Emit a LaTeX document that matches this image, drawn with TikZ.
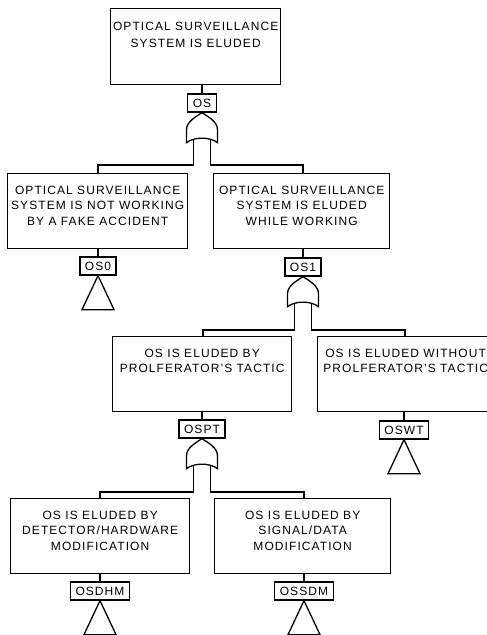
\documentclass[tikz,border=0pt]{standalone}
\usepackage{fontspec}
\setmainfont{Liberation Sans}[LetterSpace=9]
% event text: width, height, first-line strut, lines
\newcommand\evtext[4]{\parbox[c][#2pt][t]{#1pt}{\centering\rule{0pt}{#3pt}#4\par}}
\begin{document}
\begin{tikzpicture}[x=1pt,y=-1pt,line width=1.3pt,
  evbox/.style={draw, inner sep=0pt, anchor=north west,
    font=\fontsize{12}{15.8}\selectfont},
  tag/.style={draw, inner xsep=5pt, inner ysep=0pt, minimum height=18pt,
    font=\fontsize{12}{13}\selectfont},
  pics/orgate/.style={code={
    \draw (0,0) .. controls (-6,4) and (-15.5,9) .. (-15.5,17) -- (-15.5,30)
      .. controls (-8,24) and (8,24) .. (15.5,30) -- (15.5,17)
      .. controls (15.5,9) and (6,4) .. (0,0) -- cycle;
    \coordinate (-l) at (-8.5,27);
    \coordinate (-r) at (8.5,27);
  }},
  pics/transfer/.style={code={\draw (0,0) -- (-16,34) -- (16,34) -- cycle;}}
]
\useasboundingbox (0,0) rectangle (487,635);

% top event
\node[evbox, font=\fontsize{12}{17}\selectfont] (top) at (110,8)
  {\evtext{170}{76}{21.5}{OPTICAL SURVEILLANCE\\SYSTEM IS ELUDED}};
\node[tag] (os) at (202,103) {OS};
\draw (top.south -| os) -- (os.north);
\pic (g1) at (os.south) {orgate};

% first level
\coordinate (b1) at (0,165);
\node[evbox] (l1) at (7,173)
  {\evtext{180}{75}{20.5}{OPTICAL SURVEILLANCE\\SYSTEM IS NOT WORKING\\BY A FAKE ACCIDENT}};
\node[evbox] (r1) at (213,173)
  {\evtext{176}{75}{20.5}{OPTICAL SURVEILLANCE\\SYSTEM IS ELUDED\\WHILE WORKING}};
\draw (g1-l) -- (g1-l |- b1) -| (l1.north -| 98,0);
\draw (g1-r) -- (g1-r |- b1) -| (r1.north -| 303,0);

\node[tag] (os0) at (98,266) {OS0};
\draw (l1.south -| os0) -- (os0.north);
\pic at (os0.south) {transfer};

\node[tag] (os1) at (303,267) {OS1};
\draw (r1.south -| os1) -- (os1.north);
\pic (g2) at (os1.south) {orgate};

% second level
\coordinate (b2) at (0,330);
\node[evbox] (l2) at (112,336)
  {\evtext{179}{75}{20.5}{OS IS ELUDED BY\\PROLFERATOR'S TACTIC}};
\node[evbox] (r2) at (317,336)
  {\evtext{176}{75}{20.5}{OS IS ELUDED WITHOUT\\PROLFERATOR'S TACTIC}};
\draw (g2-l) -- (g2-l |- b2) -| (l2.north -| 203,0);
\draw (g2-r) -- (g2-r |- b2) -| (r2.north -| 405,0);

\node[tag] (ospt) at (202,429) {OSPT};
\draw (l2.south -| ospt) -- (ospt.north);
\pic (g3) at (ospt.south) {orgate};

\node[tag] (oswt) at (404,430) {OSWT};
\draw (r2.south -| oswt) -- (oswt.north);
\pic at (oswt.south) {transfer};

% third level
\coordinate (b3) at (0,492);
\node[evbox] (l3) at (10,498)
  {\evtext{179}{75}{20.5}{OS IS ELUDED BY\\DETECTOR/HARDWARE\\MODIFICATION}};
\node[evbox] (r3) at (214,498)
  {\evtext{176}{75}{20.5}{OS IS ELUDED BY\\SIGNAL/DATA\\MODIFICATION}};
\draw (g3-l) -- (g3-l |- b3) -| (l3.north -| 100,0);
\draw (g3-r) -- (g3-r |- b3) -| (r3.north -| 304,0);

\node[tag] (osdhm) at (100,591) {OSDHM};
\draw (l3.south -| osdhm) -- (osdhm.north);
\pic at (osdhm.south) {transfer};

\node[tag] (ossdm) at (304,591) {OSSDM};
\draw (r3.south -| ossdm) -- (ossdm.north);
\pic at (ossdm.south) {transfer};
\end{tikzpicture}
\end{document}
